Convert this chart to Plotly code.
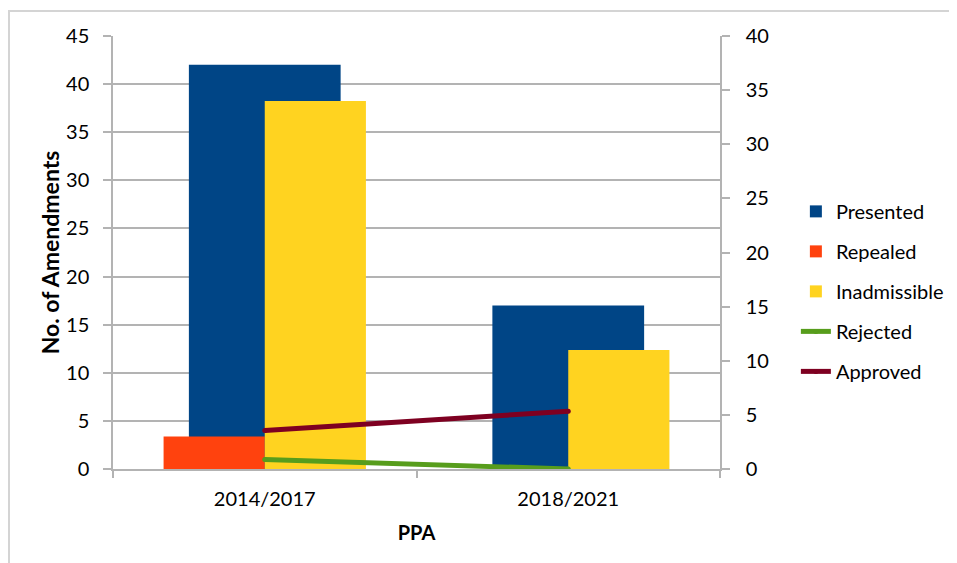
import plotly.graph_objects as go

categories = ["2014/2017", "2018/2021"]
presented = [42, 17]
repealed = [3, 0]
inadmissible = [34, 11]
rejected = [1, 0]
approved = [4, 6]

left_ticks = list(range(0, 46, 5))
right_ticks = list(range(0, 41, 5))

C_PRES = "#004586"
C_REP = "#ff420e"
C_INAD = "#ffd320"
C_REJ = "#579d1c"
C_APP = "#7e0021"
GRID = "#b3b3b3"
FONT = "Lato"

# the page body has an 8px margin, so the figure is 8px smaller and shifted
W, H = 949, 555
L, T = 105, 28
PW, PH = 607, 432.7

fig = go.Figure()
fig.add_trace(go.Bar(x=categories, y=presented, name="Presented", marker=dict(color=C_PRES, line_width=0),
                     width=0.5, offset=-0.25, yaxis="y", legendgroup="a"))
fig.add_trace(go.Bar(x=categories, y=repealed, name="Repealed", marker=dict(color=C_REP, line_width=0),
                     width=1/3, offset=-1/3, yaxis="y2", legendgroup="b"))
fig.add_trace(go.Bar(x=categories, y=inadmissible, name="Inadmissible", marker=dict(color=C_INAD, line_width=0),
                     width=1/3, offset=0, yaxis="y2", legendgroup="c"))
fig.add_trace(go.Scatter(x=categories, y=rejected, name="Rejected", mode="lines+markers",
                         line=dict(color=C_REJ, width=5), marker=dict(color=C_REJ, size=5),
                         yaxis="y3", legendgroup="d"))
fig.add_trace(go.Scatter(x=categories, y=approved, name="Approved", mode="lines+markers",
                         line=dict(color=C_APP, width=5), marker=dict(color=C_APP, size=5),
                         yaxis="y3", legendgroup="e"))

axis_font = dict(family=FONT, size=20, color="#000000")

fig.update_layout(
    width=W, height=H,
    margin=dict(l=L, r=W - L - PW, t=T, b=H - T - PH, autoexpand=False),
    paper_bgcolor="white", plot_bgcolor="white",
    barmode="overlay",
    font=dict(family=FONT, size=20, color="#000000"),
    xaxis=dict(
        type="category", range=[-0.5, 1.5], automargin=False,
        tickson="boundaries", ticks="outside", ticklen=7, tickcolor=GRID, tickwidth=1.5,
        showline=True, linecolor=GRID, linewidth=1.5, showgrid=False,
        tickfont=axis_font, ticklabelstandoff=11,
        title=dict(text="<b>PPA</b>", font=dict(family=FONT, size=20, color="#000000"), standoff=17),
    ),
    yaxis=dict(
        range=[0, 45], tickvals=left_ticks, ticks="outside", ticklen=8, tickcolor=GRID, tickwidth=1.5,
        showline=True, linecolor=GRID, linewidth=1.5, showgrid=True, gridcolor=GRID, gridwidth=1.5,
        zeroline=False, tickfont=axis_font, ticklabelstandoff=10, automargin=False,
        title=dict(text="<b>No. of Amendments</b>", font=dict(family=FONT, size=23, color="#000000"), standoff=0),
    ),
    yaxis2=dict(
        range=[0, 40], tickvals=right_ticks, overlaying="y", side="right", ticks="outside", ticklen=8,
        tickcolor=GRID, tickwidth=1.5, showline=True, linecolor=GRID, linewidth=1.5, showgrid=False,
        zeroline=False, tickfont=axis_font, ticklabelstandoff=12, automargin=False,
    ),
    yaxis3=dict(range=[0, 45], overlaying="y", visible=False),
    legend=dict(
        x=1.125, xanchor="left", y=0.64, yanchor="top",
        font=dict(family=FONT, size=20, color="#000000"),
        tracegroupgap=11, bgcolor="rgba(0,0,0,0)",
    ),
    showlegend=True,
)

# outer chart frame
fig.add_shape(type="rect", xref="paper", yref="paper",
              x0=(1 - L) / PW, x1=(1000 - L) / PW,
              y0=(T + PH - 620) / PH, y1=(T + PH - 3) / PH,
              line=dict(color="#d4d4d4", width=2), fillcolor="rgba(0,0,0,0)", layer="below")

fig.write_html("out.html")
